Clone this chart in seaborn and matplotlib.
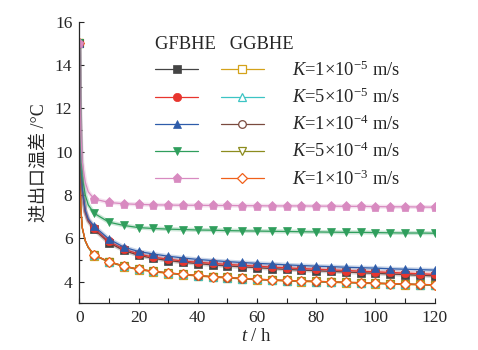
import matplotlib
matplotlib.use('Agg')
import matplotlib.pyplot as plt
import seaborn as sns
from matplotlib.lines import Line2D
from matplotlib.legend_handler import HandlerTuple
from matplotlib.ticker import MultipleLocator

# time (h)
t = [0, 0.2, 0.5, 1, 2, 3, 5, 10, 15, 20, 25, 30, 35, 40, 45, 50, 55, 60,
     65, 70, 75, 80, 85, 90, 95, 100, 105, 110, 115, 120]

# GFBHE
gf_k1e5 = [15, 11.5, 9.6, 8.2, 7.2, 6.8, 6.42, 5.8, 5.45, 5.22, 5.08, 4.98, 4.9, 4.84, 4.78,
           4.73, 4.69, 4.65, 4.61, 4.57, 4.54, 4.51, 4.48, 4.45, 4.42, 4.39, 4.36, 4.33, 4.3, 4.27]
gf_k5e5 = [15, 11.5, 9.6, 8.25, 7.25, 6.85, 6.47, 5.86, 5.51, 5.28, 5.14, 5.04, 4.96, 4.9, 4.85,
           4.8, 4.76, 4.72, 4.68, 4.64, 4.61, 4.58, 4.55, 4.52, 4.49, 4.46, 4.43, 4.4, 4.37, 4.34]
gf_k1e4 = [15, 11.6, 9.7, 8.3, 7.3, 6.9, 6.56, 5.97, 5.6, 5.4, 5.28, 5.18, 5.1, 5.03, 4.98,
           4.93, 4.89, 4.85, 4.82, 4.78, 4.75, 4.72, 4.7, 4.67, 4.65, 4.63, 4.6, 4.58, 4.56, 4.54]
gf_k5e4 = [15, 12, 10.2, 8.9, 8.0, 7.55, 7.16, 6.75, 6.6, 6.5, 6.46, 6.43, 6.41, 6.39, 6.38,
           6.36, 6.35, 6.34, 6.33, 6.32, 6.31, 6.3, 6.29, 6.28, 6.28, 6.27, 6.26, 6.25, 6.25, 6.24]
gf_k1e3 = [15, 12.5, 10.8, 9.5, 8.6, 8.15, 7.82, 7.66, 7.6, 7.57, 7.55, 7.54, 7.53, 7.53, 7.52,
           7.52, 7.51, 7.51, 7.5, 7.5, 7.5, 7.49, 7.49, 7.48, 7.48, 7.47, 7.46, 7.46, 7.45, 7.44]

# GGBHE
gg_k1e5 = [15, 9.4, 7.35, 6.45, 5.87, 5.57, 5.21, 4.9, 4.7, 4.55, 4.46, 4.38, 4.32, 4.26, 4.21,
           4.17, 4.13, 4.09, 4.06, 4.03, 4.01, 3.99, 3.97, 3.95, 3.93, 3.91, 3.89, 3.87, 3.85, 3.83]
gg_k5e5 = [15, 9.45, 7.38, 6.48, 5.88, 5.58, 5.23, 4.92, 4.72, 4.57, 4.48, 4.4, 4.34, 4.28, 4.23,
           4.19, 4.15, 4.11, 4.08, 4.05, 4.03, 4.01, 3.99, 3.97, 3.95, 3.93, 3.91, 3.89, 3.87, 3.85]
gg_k1e4 = [15, 9.45, 7.38, 6.48, 5.89, 5.59, 5.23, 4.92, 4.72, 4.57, 4.48, 4.4, 4.34, 4.28, 4.23,
           4.19, 4.15, 4.11, 4.08, 4.05, 4.03, 4.01, 3.99, 3.97, 3.95, 3.93, 3.91, 3.89, 3.87, 3.85]
gg_k5e4 = [15, 9.5, 7.4, 6.5, 5.9, 5.6, 5.24, 4.93, 4.73, 4.58, 4.49, 4.41, 4.35, 4.29, 4.24,
           4.2, 4.16, 4.12, 4.09, 4.06, 4.04, 4.02, 4.0, 3.98, 3.96, 3.94, 3.92, 3.9, 3.88, 3.86]
gg_k1e3 = [15, 9.5, 7.4, 6.5, 5.9, 5.6, 5.24, 4.93, 4.73, 4.58, 4.49, 4.41, 4.35, 4.29, 4.24,
           4.2, 4.16, 4.12, 4.09, 4.06, 4.04, 4.02, 4.0, 3.98, 3.96, 3.94, 3.92, 3.9, 3.88, 3.86]

k_labels = [r'$K$=1×10$^{-5}$ m/s', r'$K$=5×10$^{-5}$ m/s', r'$K$=1×10$^{-4}$ m/s',
            r'$K$=5×10$^{-4}$ m/s', r'$K$=1×10$^{-3}$ m/s']

gf_series = [gf_k1e5, gf_k5e5, gf_k1e4, gf_k5e4, gf_k1e3]
gg_series = [gg_k1e5, gg_k5e5, gg_k1e4, gg_k5e4, gg_k1e3]
gf_colors = ['#444444', '#e8352e', '#2e5caa', '#2f9e5c', '#d88ac0']
gf_markers = ['s', 'o', '^', 'v', 'p']
gg_colors = ['#d4a21a', '#3cc4c4', '#7a4a3e', '#8c8c1e', '#f0601a']
gg_markers = ['s', '^', 'o', 'v', 'D']

sns.set_style('ticks')
plt.rcParams['font.family'] = ['Liberation Serif', 'Noto Sans CJK SC']
plt.rcParams['mathtext.fontset'] = 'custom'
plt.rcParams['mathtext.rm'] = 'Liberation Serif'
plt.rcParams['mathtext.it'] = 'Liberation Serif:italic'
plt.rcParams['font.size'] = 13

fig = plt.figure(figsize=(4.78, 3.5), dpi=100)
ax = fig.add_axes([0.166, 0.133, 0.743, 0.805])

mark_idx = [0] + list(range(6, len(t)))

# GGBHE (open markers, behind)
gg_handles = []
for vals, c, m in zip(gg_series, gg_colors, gg_markers):
    ms = 5 if m == 'D' else 5.5
    sns.lineplot(x=t, y=vals, ax=ax, color=c, lw=0.9, marker=m, markersize=ms,
                 markerfacecolor='white', markeredgecolor=c, markeredgewidth=0.9,
                 markevery=mark_idx)
    gg_handles.append(Line2D([], [], color=c, lw=0.9, marker=m, markersize=ms,
                             markerfacecolor='white', markeredgecolor=c, markeredgewidth=0.9))

# GFBHE (filled markers)
gf_handles = []
for vals, c, m in zip(gf_series, gf_colors, gf_markers):
    ms = 6.5 if m == 'p' else 6
    sns.lineplot(x=t, y=vals, ax=ax, color=c, lw=3, alpha=0.25)
    sns.lineplot(x=t, y=vals, ax=ax, color=c, lw=0.9, marker=m, markersize=ms,
                 markeredgecolor=c, markeredgewidth=0.5, markevery=mark_idx)
    gf_handles.append(Line2D([], [], color=c, lw=0.9, marker=m, markersize=ms,
                             markeredgecolor=c, markeredgewidth=0.5))

ax.set_xlim(0, 120)
ax.set_ylim(3, 16)
ax.xaxis.set_major_locator(MultipleLocator(20))
ax.xaxis.set_minor_locator(MultipleLocator(10))
ax.yaxis.set_major_locator(MultipleLocator(2))
ax.yaxis.set_minor_locator(MultipleLocator(1))
ax.tick_params(which='major', direction='in', length=3.8, width=0.8, labelsize=12.5, pad=5)
ax.tick_params(axis='x', which='minor', direction='in', length=3.8, width=0.8)
ax.tick_params(axis='y', which='minor', direction='in', length=2, width=0.8)
for s in ['top', 'right']:
    ax.spines[s].set_visible(False)
for s in ['left', 'bottom']:
    ax.spines[s].set_linewidth(0.9)

ax.set_xlabel(r'$t$ / h', fontsize=13.5, labelpad=1)
ax.set_ylabel('进出口温差 /°C', fontsize=13, labelpad=5)

handles = [(a, b) for a, b in zip(gf_handles, gg_handles)]
leg = ax.legend(handles, k_labels, handler_map={tuple: HandlerTuple(ndivide=None, pad=1.24)},
                loc='upper left', bbox_to_anchor=(0.213, 0.95), frameon=False,
                handlelength=5.9, handletextpad=1.5, labelspacing=0.42,
                borderpad=0, borderaxespad=0, fontsize=13.3,
                title='GFBHE   GGBHE', title_fontsize=13.3, alignment='left')

fig.savefig('out.png', dpi=100)
